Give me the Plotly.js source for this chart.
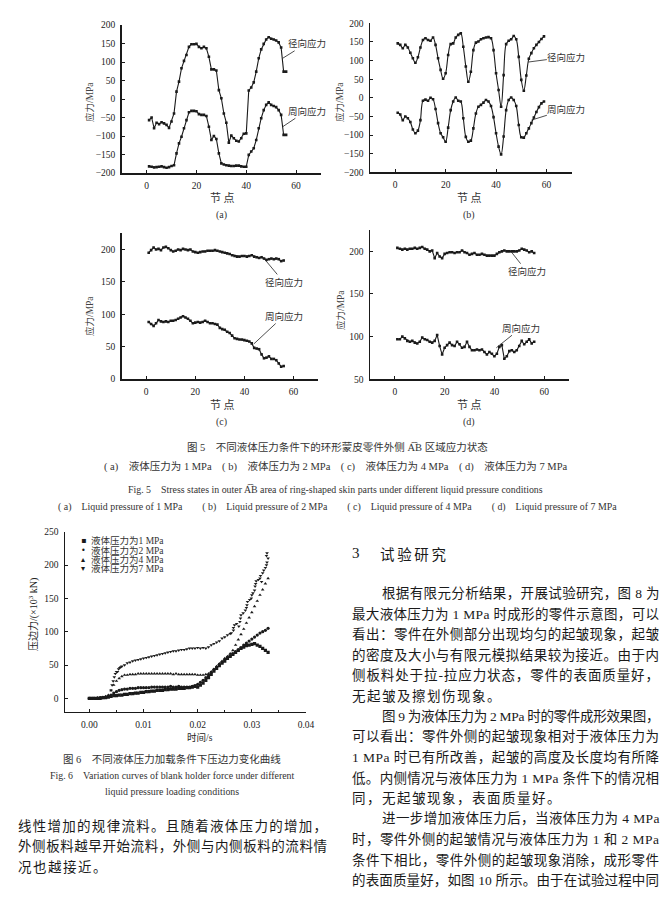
<!DOCTYPE html>
<html><head><meta charset="utf-8">
<script src="https://cdn.plot.ly/plotly-3.0.1.min.js"></script>
<style>html,body{margin:0;padding:0;background:#fff}</style>
</head><body>
<div id="chart" style="width:671px;height:898px"></div>
<script>
// ---------- DATA ----------
const nodes56 = [1,2,3,4,5,6,7,8,9,10,11,12,13,14,15,16,17,18,19,20,21,22,23,24,25,26,27,28,29,30,31,32,33,34,35,36,37,38,39,40,41,42,43,44,45,46,47,48,49,50,51,52,53,54,55,56];
const nodes59 = [1,2,3,4,5,6,7,8,9,10,11,12,13,14,15,16,17,18,19,20,21,22,23,24,25,26,27,28,29,30,31,32,33,34,35,36,37,38,39,40,41,42,43,44,45,46,47,48,49,50,51,52,53,54,55,56,57,58,59];

// Fig5(a) 1 MPa
const aRadial = [-57,-50,-79,-64,-68,-63,-66,-70,-78,-61,-39,20,47,83,103,119,141,148,148,149,141,137,141,137,114,80,80,77,24,2,-39,-64,-118,-99,-106,-113,-115,-106,-94,-93,23,31,45,74,110,134,149,161,167,163,161,158,153,139,74,74];
const aHoop = [-182,-183,-185,-184,-183,-182,-184,-186,-184,-181,-179,-147,-120,-102,-79,-57,-36,-32,-32,-33,-41,-43,-43,-46,-75,-111,-100,-108,-147,-174,-177,-179,-180,-181,-181,-180,-180,-182,-183,-183,-151,-142,-133,-111,-79,-52,-30,-16,-9,-16,-19,-22,-30,-43,-97,-97];
// Fig5(b) 2 MPa
const bRadial = [146,142,133,142,135,121,106,94,109,135,155,160,155,153,162,142,106,75,51,66,115,144,146,162,169,173,137,84,43,70,128,148,151,157,160,162,163,160,128,66,21,-24,61,144,153,157,166,157,110,48,19,60,105,120,133,142,150,158,165];
const bHoop = [-40,-45,-60,-50,-55,-65,-85,-95,-88,-60,-8,-5,-8,0,-4,-30,-68,-95,-106,-118,-80,-33,-10,1,-8,-10,-55,-105,-118,-115,-82,-42,-24,-19,-13,-6,-10,-22,-52,-95,-131,-152,-104,-33,-6,1,-6,-22,-73,-106,-107,-95,-82,-68,-53,-38,-25,-15,-10];
// Fig5(c) 4 MPa
const cRadial = [195,199,203,200,201,199,203,204,202,199,197,198,200,199,201,200,199,200,197,196,195,196,197,197,198,198,198,199,198,197,196,195,194,193,191,190,189,189,190,190,189,190,191,189,188,187,188,186,184,185,186,185,186,185,182,183];
const cHoop = [88,85,82,86,91,89,88,89,88,90,90,91,93,95,97,95,93,90,86,87,88,87,88,90,88,86,86,85,84,79,77,76,73,71,67,63,62,61,61,60,59,58,55,48,47,46,38,32,33,35,31,31,29,24,19,20];
// Fig5(d) 7 MPa
const dRadial = [204,203,202,203,202,203,203,204,203,204,205,203,202,200,201,192,198,194,192,197,198,199,199,198,199,199,201,199,198,196,197,198,196,196,197,196,195,195,195,195,197,199,200,201,200,200,200,200,200,201,203,202,201,199,200,198];
const dHoop = [97,97,100,98,95,94,95,93,92,94,99,97,96,94,93,95,102,89,79,87,90,93,90,89,94,91,87,88,94,88,84,84,85,84,85,82,79,82,80,77,80,88,90,74,77,83,84,82,84,89,95,91,94,97,92,94];

// Fig6 blank holder force (x10^3 kN) vs time (s)
const tGrid = [0,0.0005,0.001,0.0015,0.002,0.0025,0.003,0.0035,0.004,0.0045,0.005,0.0055,0.006,0.0065,0.007,0.0075,0.008,0.0085,0.009,0.0095,0.01,0.0105,0.011,0.0115,0.012,0.0125,0.013,0.0135,0.014,0.0145,0.015,0.0155,0.016,0.0165,0.017,0.0175,0.018,0.0185,0.019,0.0195,0.02,0.0205,0.021,0.0215,0.022,0.0225,0.023,0.0235,0.024,0.0245,0.025,0.0255,0.026,0.0265,0.027,0.0275,0.028,0.0285,0.029,0.0295,0.03,0.0305,0.031,0.0315,0.032,0.0325,0.033];
const f1MPa = [0,0,0,0,0,1,1,2,3,4,4,5,5,6,6,7,7,8,8,9,9,10,10,11,11,12,12,12,13,13,14,14,14,15,15,15,16,16,17,18,17,20,23,27,31,36,41,45,49,53,56,60,63,66,69,72,75,77,79,80,81,82,80,78,75,72,69];
const f2MPa = [0,0,0,0,1,1,2,3,5,8,10,12,13,14,14,15,15,15,16,16,16,16,16,17,17,17,17,17,17,17,18,17,17,18,17,17,17,17,18,19,21,24,27,31,35,39,43,47,51,54,58,61,64,67,70,73,76,80,83,86,89,92,95,98,100,102,105];
const f4MPa = [0,0,0,1,1,2,3,5,12,20,26,30,33,35,35,36,36,36,37,37,37,37,37,37,37,37,37,37,37,37,37,36,37,36,36,36,36,36,36,36,35,35,35,36,37,40,44,48,52,56,60,63,67,72,80,88,96,104,113,121,129,138,146,155,163,172,180];
const t7MPa = [0,0.0005,0.001,0.0015,0.002,0.0025,0.003,0.0035,0.004,0.0042,0.0044,0.0046,0.0048,0.005,0.0052,0.0054,0.0056,0.0058,0.006,0.0065,0.007,0.0075,0.008,0.0085,0.009,0.0095,0.01,0.0105,0.011,0.0115,0.012,0.0125,0.013,0.0135,0.014,0.0145,0.015,0.0155,0.016,0.0165,0.017,0.0175,0.018,0.0185,0.019,0.0195,0.02,0.0205,0.021,0.0215,0.022,0.0225,0.023,0.0235,0.024,0.0245,0.025,0.0255,0.026,0.0262,0.0266,0.0266,0.0268,0.0272,0.0276,0.0278,0.0279,0.028,0.0284,0.0288,0.029,0.0291,0.0292,0.0296,0.0299,0.03,0.0302,0.0305,0.0306,0.0307,0.0308,0.0312,0.0315,0.0316,0.0318,0.032,0.0322,0.0325,0.0327,0.0328,0.033,0.0327,0.0328];
const f7MPa = [0,0,0,1,1,1,2,4,12,20,26,32,37,40,40,44,46,47,48,50,53,54,56,57,58,59,60,61,62,63,64,65,66,67,68,69,70,71,71,72,73,73,74,75,75,75,76,75,76,75,77,80,82,84,86,90,92,95,97,98,102,106,110,112,108,115,120,125,128,132,136,140,145,148,150,155,158,162,168,172,176,178,180,184,175,188,192,196,200,204,210,214,218];

const seriesNames = ['液体压力为1 MPa','液体压力为2 MPa','液体压力为4 MPa','液体压力为7 MPa'];

// ---------- LAYOUT HELPERS ----------
const W = 671, H = 898;
const px = x => x / W, py = y => 1 - y / H;
const CJK = 'Noto Sans CJK SC';
const SER = 'Liberation Serif, Noto Sans CJK SC';
const INK = '#1a1a1a';
const axFont = {family: 'Liberation Serif', size: 9.5, color: '#222'};

function axis(x0, x1, range, dtick, anchor, extra) {
  return Object.assign({
    domain: [x0, x1], range: range, tickmode: 'linear', tick0: 0, dtick: dtick, anchor: anchor,
    showgrid: false, zeroline: false, showline: true, linecolor: INK, linewidth: 1.5,
    ticks: 'inside', ticklen: 3, tickwidth: 1, tickcolor: INK, tickfont: axFont,
    fixedrange: true, ticklabelstandoff: 3
  }, extra || {});
}

function lineTrace(x, y, xa, ya, shape) {
  return {x: x, y: y, xaxis: xa, yaxis: ya, type: 'scatter', mode: 'lines+markers',
    line: {color: INK, width: 1.1, shape: shape || 'linear'},
    marker: {symbol: 'square', size: 2.6, color: INK}, hoverinfo: 'skip'};
}
function dotTrace(x, y, sym, name) {
  return {x: x, y: y, xaxis: 'x5', yaxis: 'y5', type: 'scatter', mode: 'markers', name: name,
    marker: {symbol: sym, size: 3.2, color: INK, line: {width: 0}}, hoverinfo: 'skip'};
}

const traces = [
  lineTrace(nodes56, aRadial, 'x', 'y'), lineTrace(nodes56, aHoop, 'x', 'y'),
  lineTrace(nodes59, bRadial, 'x2', 'y2', 'spline'), lineTrace(nodes59, bHoop, 'x2', 'y2', 'spline'),
  lineTrace(nodes56, cRadial, 'x3', 'y3'), lineTrace(nodes56, cHoop, 'x3', 'y3'),
  lineTrace(nodes56, dRadial, 'x4', 'y4'), lineTrace(nodes56, dHoop, 'x4', 'y4'),
  dotTrace(tGrid, f1MPa, 'square', seriesNames[0]),
  dotTrace(tGrid, f2MPa, 'circle', seriesNames[1]),
  dotTrace(tGrid, f4MPa, 'triangle-up', seriesNames[2]),
  dotTrace(t7MPa, f7MPa, 'triangle-down', seriesNames[3])
];

// ---------- ANNOTATIONS ----------
const ann = [];
const justify = {};
function txt(x, y, text, opt) {
  const a = Object.assign({xref: 'paper', yref: 'paper', x: px(x), y: py(y), text: text, showarrow: false,
    xanchor: 'center', yanchor: 'middle', borderpad: 0, borderwidth: 0,
    font: {family: SER, size: 10.5, color: '#222'}}, opt || {});
  ann.push(a);
  return ann.length - 1;
}
function bodyLine(x, y, text, width, size, spacing) {
  const i = txt(x, y, text, {xanchor: 'left', align: 'left', font: {family: SER, size: size || 13.5, color: INK}});
  justify[i] = width ? {width: width} : {spacing: spacing || 1.2};
}
function leader(xa, ya, x, y, ax, ay, text) {
  ann.push({xref: xa, yref: ya, x: x, y: y, ax: ax, ay: ay, text: text, showarrow: true, arrowhead: 0,
    arrowwidth: 0.8, arrowcolor: '#222', standoff: 0, borderpad: 0,
    font: {family: CJK, size: 9.5, color: '#333'}});
}

// Fig 5 panel labels
const ylab = {family: SER, size: 9.5, color: '#444'};
txt(90, 102, '应力/MPa', {textangle: -90, font: ylab});
txt(340, 102, '应力/MPa', {textangle: -90, font: ylab});
txt(90, 316, '应力/MPa', {textangle: -90, font: ylab});
txt(340, 310, '应力/MPa', {textangle: -90, font: ylab});
const xlab = {family: CJK, size: 11, color: '#333'};
txt(222, 197, '节 点', {font: xlab});
txt(469, 197, '节 点', {font: xlab});
txt(222, 404, '节 点', {font: xlab});
txt(469, 404, '节 点', {font: xlab});
const sub = {family: 'Liberation Serif', size: 10, color: '#333'};
txt(222, 215, '(a)', {font: sub});
txt(469, 215, '(b)', {font: sub});
txt(222, 422, '(c)', {font: sub});
txt(469, 422, '(d)', {font: sub});

leader('x', 'y', 54.6, 110, 24, -15, '径向应力');
leader('x', 'y', 54.6, -75, 24, -16, '周向应力');
leader('x2', 'y2', 52.8, 96, 38, -5, '径向应力');
leader('x2', 'y2', 54, -60, 35, -11, '周向应力');
leader('x3', 'y3', 47.8, 187, 20, 24, '径向应力');
leader('x3', 'y3', 43.8, 54, 30, -28, '周向应力');
leader('x4', 'y4', 46.9, 199, 15, 19, '径向应力');
leader('x4', 'y4', 40.8, 87, 25, -20, '周向应力');

// Fig 5 captions
const capC = {family: SER, size: 10.5, color: '#333'};
const capE = {family: 'Liberation Serif', size: 9.9, color: '#333'};
txt(337, 447, '图 5　不同液体压力条件下的环形蒙皮零件外侧 A͡B 区域应力状态', {font: capC});
txt(335, 466, '( a)　液体压力为 1 MPa　( b)　液体压力为 2 MPa　( c)　液体压力为 4 MPa　( d)　液体压力为 7 MPa', {font: capC});
txt(335, 490, 'Fig. 5　Stress states in outer A͡B area of ring-shaped skin parts under different liquid pressure conditions', {font: capE});
txt(337, 507, '( a)　Liquid pressure of 1 MPa　　( b)　Liquid pressure of 2 MPa　　( c)　Liquid pressure of 4 MPa　　( d)　Liquid pressure of 7 MPa', {font: capE});

// Fig 6 labels
txt(33, 615, '压边力/(×10<sup>3</sup> kN)', {textangle: -90, font: {family: SER, size: 10, color: '#222'}});
txt(200, 737, '时间/s', {font: {family: SER, size: 9.5, color: '#222'}});
const legY = [540, 550, 559.5, 568.5];
const legSym = ['▪', '•', '▴', '▾'];
for (let k = 0; k < 4; k++) {
  txt(83, legY[k], legSym[k], {font: {family: 'DejaVu Sans', size: 8, color: INK}});
  txt(91, legY[k], seriesNames[k], {xanchor: 'left', align: 'left', font: {family: SER, size: 9.5, color: '#333'}});
}
txt(172, 759, '图 6　不同液体压力加载条件下压边力变化曲线', {font: capC});
txt(172, 775, 'Fig. 6　Variation curves of blank holder force under different', {font: capE});
txt(172, 791, 'liquid pressure loading conditions', {font: capE});

// Body text, left column
bodyLine(18, 826, '线性增加的规律流料。且随着液体压力的增加，', 309);
bodyLine(18, 846.5, '外侧板料越早开始流料，外侧与内侧板料的流料情', 309);
bodyLine(18, 867, '况也越接近。', null, 13.5, 1.5);

// Right column
txt(352, 553, '3', {xanchor: 'left', align: 'left', font: {family: 'Liberation Serif', size: 15, color: INK}});
(function(){ const i = txt(380, 553, '试验研究', {xanchor: 'left', align: 'left', font: {family: CJK, size: 14.5, color: INK}}); justify[i] = {width: 66}; })();
const R = [
  [381.5, 593, '根据有限元分析结果，开展试验研究，图 8 为', true],
  [352, 613.5, '最大液体压力为 1 MPa 时成形的零件示意图，可以', true],
  [352, 634, '看出：零件在外侧部分出现均匀的起皱现象，起皱', true],
  [352, 654.5, '的密度及大小与有限元模拟结果较为接近。由于内', true],
  [352, 675, '侧板料处于拉-拉应力状态，零件的表面质量好，', true],
  [352, 695.5, '无起皱及擦划伤现象。', false],
  [381.5, 716, '图 9 为液体压力为 2 MPa 时的零件成形效果图，', true],
  [352, 736.5, '可以看出：零件外侧的起皱现象相对于液体压力为', true],
  [352, 757, '1 MPa 时已有所改善，起皱的高度及长度均有所降', true],
  [352, 777.5, '低。内侧情况与液体压力为 1 MPa 条件下的情况相', true],
  [352, 798, '同，无起皱现象，表面质量好。', false],
  [381.5, 818.5, '进一步增加液体压力后，当液体压力为 4 MPa', true],
  [352, 839, '时，零件外侧的起皱情况与液体压力为 1 和 2 MPa', true],
  [352, 859.5, '条件下相比，零件外侧的起皱现象消除，成形零件', true],
  [352, 880, '的表面质量好，如图 10 所示。由于在试验过程中同', true]
];
R.forEach(r => bodyLine(r[0], r[1], r[2], r[3] ? (659 - r[0]) : null, 13.5, 1.5));

// ---------- LAYOUT ----------
const layout = {
  width: W, height: H, margin: {l: 0, r: 0, t: 0, b: 0},
  paper_bgcolor: '#fff', plot_bgcolor: 'rgba(0,0,0,0)', showlegend: false,
  font: {family: SER, color: '#222'},
  xaxis: axis(px(121.7), px(321), [-10, 70], 20, 'y'),
  yaxis: axis(py(173), py(25), [-200, 200], 50, 'x'),
  xaxis2: axis(px(370), px(571.7), [-10, 70], 20, 'y2'),
  yaxis2: axis(py(172.3), py(23.3), [-200, 200], 50, 'x2'),
  xaxis3: axis(px(121.7), px(318), [-10, 70], 20, 'y3'),
  yaxis3: axis(py(379), py(233.3), [0, 225], 50, 'x3'),
  xaxis4: axis(px(370), px(569), [-10, 70], 20, 'y4'),
  yaxis4: axis(py(379.3), py(230), [50, 225], 50, 'x4'),
  xaxis5: axis(px(65), px(306), [-0.0045, 0.04], 0.01, 'y5', {tickformat: '.2f',
    minor: {tick0: 0, dtick: 0.005, ticks: 'inside', ticklen: 2, tickcolor: INK}}),
  yaxis5: axis(py(711.7), py(531.7), [-20, 250], 50, 'x5'),
  annotations: ann
};

const gd = document.getElementById('chart');
Plotly.newPlot(gd, traces, layout, {staticPlot: true, displayModeBar: false}).then(function () {
  gd.querySelectorAll('g.annotation').forEach(function (g) {
    const i = +g.getAttribute('data-index');
    const j = justify[i];
    if (!j) return;
    const t = g.querySelector('text.annotation-text');
    if (!t) return;
    const n = Array.from(t.textContent).length;
    const len = t.getComputedTextLength();
    const sp = j.width ? (j.width - len) / Math.max(1, n - 1) : j.spacing;
    t.style.letterSpacing = sp + 'px';
  });
});
</script>
</body></html>
